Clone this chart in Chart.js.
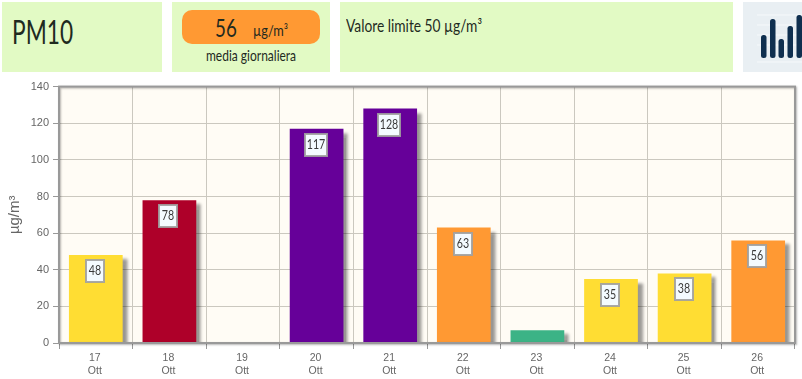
<!DOCTYPE html>
<html>
<head>
<meta charset="utf-8">
<script src="https://cdn.jsdelivr.net/npm/chart.js@4"></script>
<style>
  html, body { margin: 0; padding: 0; background: #fff; }
  body { width: 802px; height: 379px; position: relative; overflow: hidden; font-family: Lato, sans-serif; color: #1f2a1f; }
  .box { position: absolute; top: 2px; height: 70px; background: #e2fac4; }
  .stretta { position: absolute; white-space: nowrap; transform-origin: left top; }
  #title { left: 2px; width: 160px; }
  #title .stretta { left: 10px; top: 10px; font-size: 32px; transform: scaleX(0.71); }
  #media { left: 172px; width: 158px; }
  #pill { position: absolute; left: 10px; top: 8px; width: 138px; height: 34px; border-radius: 10px; background: #ff9933; }
  #valore { left: 33px; top: 2px; font-size: 25px; transform: scaleX(0.75); }
  #unita { left: 71px; top: 11px; font-size: 15px; transform: scaleX(0.85); }
  #nota { left: 34px; top: 44px; font-size: 15px; transform: scaleX(0.8); }
  #limite { left: 340px; width: 393px; }
  #limite .stretta { left: 6px; top: 13px; font-size: 17px; transform: scaleX(0.81); }
  #icona { position: absolute; left: 743px; top: 2px; width: 59px; height: 70px; background: #e9eff3; }
  #grafico { position: absolute; left: 0; top: 76px; width: 802px; height: 303px; }
</style>
</head>
<body>
<div class="box" id="title"><span class="stretta">PM10</span></div>
<div class="box" id="media">
  <div id="pill"><span class="stretta" id="valore">56</span><span class="stretta" id="unita">µg/m³</span></div>
  <span class="stretta" id="nota">media giornaliera</span>
</div>
<div class="box" id="limite"><span class="stretta">Valore limite 50 µg/m³</span></div>
<div id="icona">
  <svg width="59" height="70">
    <g stroke="#f6f9fb" stroke-width="1">
      <line x1="14" y1="13" x2="59" y2="13"/><line x1="14" y1="23" x2="59" y2="23"/>
      <line x1="14" y1="33" x2="59" y2="33"/><line x1="14" y1="43" x2="59" y2="43"/>
      <line x1="14" y1="60" x2="59" y2="60"/>
    </g>
    <g fill="#0f2f4f">
      <rect x="18" y="33" width="5.5" height="23" rx="2.5"/>
      <rect x="27" y="17" width="5.5" height="39" rx="2.5"/>
      <rect x="35.5" y="37" width="5.5" height="19" rx="2.5"/>
      <rect x="44.5" y="24" width="5.5" height="32" rx="2.5"/>
      <rect x="53.5" y="13" width="5.5" height="43" rx="2.5"/>
    </g>
  </svg>
</div>
<div id="grafico"><canvas id="pm10Chart"></canvas></div>
<script>
  const giorni = ["17", "18", "19", "20", "21", "22", "23", "24", "25", "26"];
  const mese = "Ott";
  const valori = [48, 78, null, 117, 128, 63, 7, 35, 38, 56];
  const coloriBarre = ["#ffdd33", "#ae0029", "#ffffff", "#660099", "#660099", "#ff9933", "#3cb386", "#ffdd33", "#ffdd33", "#ff9933"];
  const tickY = [0, 20, 40, 60, 80, 100, 120, 140];
  const sogliaEtichetta = 10; // sotto questo valore niente etichetta

  const sfondoArea = {
    id: "sfondoArea",
    beforeDraw(chart) {
      const { ctx, chartArea: a } = chart;
      ctx.save();
      ctx.fillStyle = "#fffcf5";
      ctx.fillRect(a.left, a.top, a.width, a.height);
      ctx.restore();
    },
    afterDraw(chart) {
      const { ctx, chartArea: a } = chart;
      ctx.save();
      ctx.shadowColor = "rgba(0,0,0,0.3)";
      ctx.shadowOffsetX = 1;
      ctx.shadowOffsetY = 1;
      ctx.shadowBlur = 2;
      ctx.strokeStyle = "#999999";
      ctx.lineWidth = 2;
      ctx.strokeRect(a.left, a.top, a.width, a.height);
      ctx.restore();
    },
  };

  const ombraBarre = {
    id: "ombraBarre",
    beforeDatasetDraw(chart) {
      const ctx = chart.ctx;
      ctx.save();
      ctx.shadowColor = "rgba(0,0,0,0.4)";
      ctx.shadowOffsetX = 5;
      ctx.shadowOffsetY = 4;
      ctx.shadowBlur = 3;
    },
    afterDatasetDraw(chart) {
      chart.ctx.restore();
    },
  };

  // etichetta col valore dentro la barra
  const etichette = {
    id: "etichette",
    afterDatasetsDraw(chart) {
      const ctx = chart.ctx;
      const barre = chart.getDatasetMeta(0).data;
      barre.forEach((barra, i) => {
        if (valori[i] === null || valori[i] < sogliaEtichetta) return;
        const x = Math.round(barra.x) - 1;
        const y = Math.round(barra.y);
        const mezza = valori[i] >= 100 ? 11 : 9;
        ctx.save();
        ctx.fillStyle = "#f4fbff";
        ctx.strokeStyle = "rgba(160,160,160,0.9)";
        ctx.lineWidth = 2;
        ctx.fillRect(x - mezza, y + 5, mezza * 2, 22);
        ctx.strokeRect(x - mezza, y + 5, mezza * 2, 22);
        ctx.translate(x, y + 16);
        ctx.scale(0.82, 1);
        ctx.font = "13px Lato, sans-serif";
        ctx.textAlign = "center";
        ctx.textBaseline = "middle";
        ctx.fillStyle = "#3a3a3a";
        ctx.fillText(valori[i], 0, 0);
        ctx.restore();
      });
    },
  };

  const ctx = document.getElementById("pm10Chart").getContext("2d");
  const pm10Chart = new Chart(ctx, {
    type: "bar",
    data: {
      labels: giorni.map((g) => [g, mese]),
      datasets: [
        {
          data: valori,
          backgroundColor: coloriBarre,
          barPercentage: 0.73,
          categoryPercentage: 1,
        },
      ],
    },
    options: {
      responsive: true,
      maintainAspectRatio: false,
      animation: false,
      layout: { padding: { top: 6.4, right: 7, bottom: 0, left: 0 } },
      plugins: {
        legend: { display: false },
        tooltip: { enabled: false },
      },
      scales: {
        x: {
          grid: { color: "#cbc8bf", lineWidth: 1, tickColor: "#999999", tickLength: 6, offset: true },
          border: { color: "#999999", width: 2 },
          ticks: { color: "#666666", font: { family: "Liberation Sans", size: 10.5 }, padding: 3, labelOffset: -1, maxRotation: 0, autoSkip: false },
          afterFit(scale) { scale.height = 36; },
        },
        y: {
          min: 0,
          max: 140,
          afterBuildTicks(scale) { scale.ticks = tickY.map((v) => ({ value: v })); },
          grid: { color: "#cbc8bf", lineWidth: 1, tickColor: "#999999", tickLength: 6 },
          border: { color: "#999999", width: 2 },
          ticks: { color: "#666666", font: { family: "Liberation Sans", size: 11 }, padding: 4 },
          title: { display: true, text: "µg/m³", color: "#666666", font: { family: "Liberation Sans", size: 15 }, padding: { top: 6, bottom: 0 } },
          afterFit(scale) { scale.width = 59; },
        },
      },
    },
    plugins: [sfondoArea, ombraBarre, etichette],
  });
</script>
</body>
</html>
